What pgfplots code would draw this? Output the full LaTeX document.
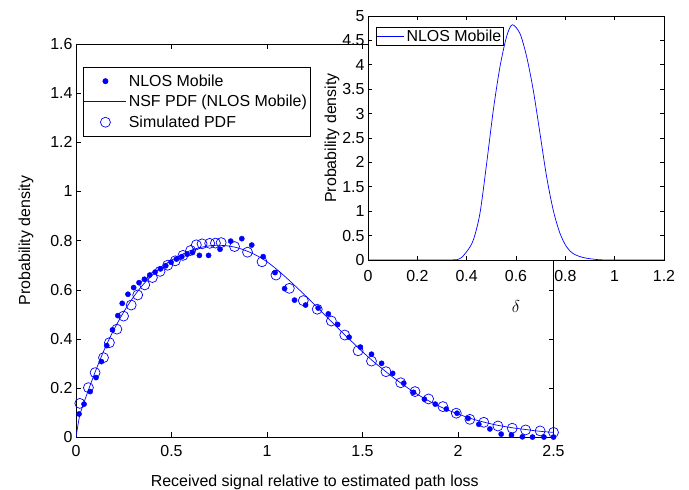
\documentclass[border=0pt]{standalone}
\usepackage{pgfplots}
\pgfplotsset{compat=1.18}
\usepackage{fontspec}
\setmainfont{Liberation Sans}
\definecolor{mblue}{RGB}{0,0,255}
\begin{document}
\begin{tikzpicture}
\useasboundingbox (0bp,0bp) rectangle (689bp,490bp);
\begin{axis}[
  at={(76bp,52.7bp)}, anchor=south west,
  width=477.5bp, height=393.3bp, scale only axis,
  xmin=0, xmax=2.5, ymin=0, ymax=1.6,
  xtick={0,0.5,...,2.5}, ytick={0,0.2,...,1.6},
  tick align=inside, major tick length=5bp,
  font=\fontsize{16}{19}\selectfont,
  tick label style={font=\fontsize{16}{19}\selectfont},
  /pgf/number format/assume math mode=true,
  xticklabel style={yshift=-5bp},
  xlabel={Received signal relative to estimated path loss},
  ylabel={Probability density},
  xlabel style={yshift=-11bp},
  ylabel style={yshift=10bp},
  axis line style={black, line width=0.7bp},
  every tick/.style={black, line width=0.6bp},
  legend style={at={(0.014,0.942)}, anchor=north west, line width=0.7bp,
    font=\fontsize{16}{19}\selectfont, row sep=3.5bp, inner xsep=1bp, inner ysep=5.5bp,
    cells={anchor=west}},
  legend image code/.code={\draw[mark repeat=2,mark phase=2,#1] plot coordinates {(0bp,0bp) (21bp,0bp) (42bp,0bp)};},
]
\addplot[only marks, mark=*, mark size=2.6bp, color=mblue, mark options={fill=mblue, draw=mblue}] coordinates {
(0.016,0.095) (0.042,0.135) (0.074,0.186) (0.105,0.243) (0.133,0.308) (0.161,0.373)
(0.191,0.437) (0.219,0.495) (0.242,0.545) (0.272,0.582) (0.302,0.609) (0.330,0.629)
(0.358,0.643) (0.386,0.660) (0.414,0.672) (0.442,0.685) (0.470,0.698) (0.498,0.712)
(0.526,0.725) (0.554,0.735) (0.582,0.745) (0.610,0.752) (0.646,0.740) (0.694,0.740)
(0.754,0.765) (0.810,0.798) (0.868,0.808) (0.920,0.782) (0.980,0.735) (1.042,0.670)
(1.092,0.605) (1.144,0.558) (1.202,0.538) (1.268,0.526) (1.321,0.502) (1.370,0.459)
(1.430,0.407) (1.489,0.367) (1.547,0.338) (1.600,0.301) (1.658,0.260) (1.716,0.220)
(1.767,0.183) (1.824,0.155) (1.881,0.135) (1.939,0.115) (1.995,0.098) (2.053,0.077)
(2.109,0.053) (2.167,0.034) (2.226,0.013) (2.280,0.009) (2.337,0.002) (2.390,0.001)
(2.450,0.001) (2.500,0.001)
};
\addlegendentry{NLOS Mobile}
\addlegendimage{legend image code/.code={\draw[blue, line width=0.8bp] (0bp,0bp) -- (42bp,0bp);}}
\addlegendentry{NSF PDF (NLOS Mobile)}
\addplot[color=mblue, draw=mblue, line width=0.7bp, smooth, forget plot] coordinates {
(0,0) (0.02,0.09) (0.05,0.16) (0.1,0.265) (0.15,0.36) (0.2,0.44) (0.25,0.51) (0.3,0.57)
(0.35,0.62) (0.4,0.66) (0.45,0.695) (0.5,0.72) (0.55,0.742) (0.6,0.76) (0.65,0.772)
(0.7,0.779) (0.75,0.781) (0.8,0.778) (0.85,0.77) (0.9,0.756) (0.95,0.738) (1.0,0.714)
(1.05,0.684) (1.1,0.65) (1.15,0.614) (1.2,0.577) (1.25,0.539) (1.3,0.5) (1.35,0.461)
(1.4,0.422) (1.45,0.385) (1.5,0.348) (1.55,0.313) (1.6,0.281) (1.65,0.25) (1.7,0.221)
(1.75,0.194) (1.8,0.169) (1.85,0.147) (1.9,0.127) (1.95,0.11) (2.0,0.095) (2.05,0.081)
(2.1,0.069) (2.15,0.059) (2.2,0.05) (2.25,0.043) (2.3,0.037) (2.35,0.032) (2.4,0.027)
(2.45,0.023) (2.5,0.02)
};
\addplot[only marks, mark=o, mark size=5bp, color=mblue, mark options={line width=0.7bp, draw=mblue}] coordinates {
(0.020,0.138) (0.065,0.202) (0.100,0.263) (0.144,0.324) (0.175,0.385) (0.214,0.440)
(0.249,0.493) (0.289,0.538) (0.323,0.579) (0.36,0.620) (0.40,0.650) (0.44,0.675)
(0.48,0.700) (0.52,0.718) (0.56,0.740) (0.60,0.760) (0.63,0.783) (0.66,0.787)
(0.70,0.789) (0.73,0.790) (0.76,0.792) (0.83,0.776) (0.898,0.753) (0.974,0.714)
(1.047,0.660) (1.117,0.606) (1.190,0.556) (1.263,0.521) (1.337,0.473) (1.407,0.416)
(1.477,0.352) (1.547,0.310) (1.623,0.267) (1.700,0.222) (1.775,0.186) (1.846,0.156)
(1.921,0.125) (1.991,0.098) (2.062,0.073) (2.135,0.061) (2.209,0.046) (2.284,0.037)
(2.354,0.030) (2.430,0.026) (2.500,0.020)
};
\addlegendentry{Simulated PDF}
\end{axis}
\begin{axis}[
  at={(368bp,230bp)}, anchor=south west,
  width=296bp, height=244bp, scale only axis,
  xmin=0, xmax=1.2, ymin=0, ymax=5,
  xtick={0,0.2,...,1.2}, ytick={0,0.5,...,5},
  tick align=inside, major tick length=4bp,
  font=\fontsize{16}{19}\selectfont,
  tick label style={font=\fontsize{16}{19}\selectfont},
  /pgf/number format/assume math mode=true,
  axis background/.style={fill=white},
  xticklabel style={yshift=-7bp},
  xlabel={$\delta$}, ylabel={Probability density},
  xlabel style={yshift=-12bp},
  ylabel style={yshift=-4bp},
  axis line style={black, line width=0.7bp},
  every tick/.style={black, line width=0.6bp},
  legend style={at={(0.027,0.955)}, anchor=north west, line width=0.7bp,
    font=\fontsize{16}{19}\selectfont, inner sep=0.5bp},
  legend image code/.code={\draw[mblue, line width=0.7bp] (0bp,0bp) -- (27bp,0bp);},
]
\addplot[color=mblue, draw=mblue, line width=0.7bp, smooth] coordinates {
(0,0) (0.2,0) (0.34,0.002) (0.373,0.03) (0.4,0.17) (0.427,0.41) (0.454,0.96) (0.481,1.98)
(0.508,3.07) (0.535,3.96) (0.562,4.58) (0.585,4.82) (0.616,4.64) (0.643,4.17)
(0.67,3.48) (0.697,2.6) (0.724,1.71) (0.751,1.02) (0.778,0.55) (0.805,0.27)
(0.832,0.13) (0.873,0.05) (0.927,0.01) (0.98,0.001) (1.2,0)
};
\addlegendentry{NLOS Mobile}
\end{axis}
\end{tikzpicture}
\end{document}
